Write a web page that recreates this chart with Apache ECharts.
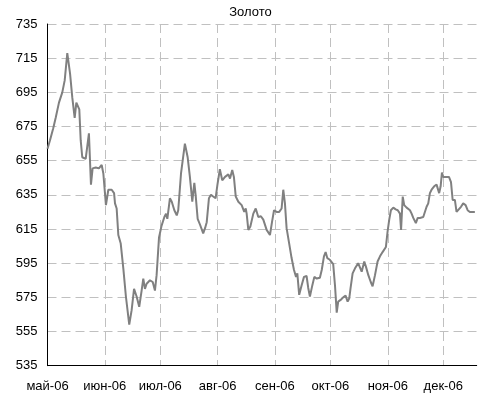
<!DOCTYPE html>
<html>
<head>
<meta charset="utf-8">
<script src="https://cdn.jsdelivr.net/npm/echarts@6/dist/echarts.min.js"></script>
<style>html,body{margin:0;padding:0;background:#fff}#c{width:501px;height:417px}</style>
</head>
<body>
<div id="c"></div>
<script>
// Days since 1 May 2006
const days = [
  0,1.35,2.4,3.1,4.4,6.2,8.0,9.3,10.7,12.2,
  13.4,14.7,15.6,16.5,17.2,17.95,18.8,20.65,21.5,22.4,
  23.5,24.4,26.1,27.8,29.3,30.2,31.6,32.9,34.7,36.0,
  36.5,37.4,38.3,39.6,41.0,42.4,44.2,45.5,46.8,48.2,
  49.6,50.9,51.8,52.7,53.6,55.4,56.9,58.1,59.0,60.3,
  61.7,63.2,64.1,64.8,66.2,67.2,68.6,69.9,70.7,72.2,
  74.3,75.8,77.0,78.3,79.4,80.1,81.2,82.5,84.2,85.2,
  86.1,87.3,88.4,89.6,90.9,91.9,93.2,94.5,96.0,97.8,
  98.7,99.9,100.8,101.8,103.2,105.0,106.4,107.2,107.7,108.6,
  109.7,111.3,112.6,114.0,115.4,116.7,118.5,120.3,121.4,122.5,
  123.9,125.3,126.6,127.5,128.4,129.3,130.7,132.0,133.3,134.4,
  135.1,136.1,137.4,138.7,140.1,141.0,141.9,143.2,144.3,145.6,
  147.3,148.3,149.5,150.4,151.3,152.7,154.5,155.5,156.4,157.2,
  158.5,159.9,161.2,162.3,163.2,163.9,165.0,166.3,168.0,169.0,
  169.9,170.7,171.3,172.2,173.5,174.8,175.8,177.1,178.5,179.8,
  181.2,183.0,183.9,184.8,185.7,187.0,188.3,189.4,190.6,191.2,
  192.1,192.9,194.2,196.0,196.9,197.8,198.3,199.2,200.2,201.4,
  203.2,204.1,205.0,205.9,206.8,207.7,209.1,210.4,211.3,211.8,
  212.6,213.3,214.0,215.3,217.1,218.2,219.1,219.8,220.3,221.2,
  222.1,223.6,224.8,226.1,227.2,228.4,231.1
];
const prices = [
  662,667,668,674,680,689,695,702,718,706,
  692,680,689,690,685,667,657,656,656,671,
  641,650.5,651,650.5,652.5,647.5,629,638,638,636,
  630,627,611.5,606.5,592,575.5,559,567.5,580,575.5,
  569.5,579,586,580,583,585,584,579,588,610,
  617,622,624,621,633,631,626,623,626,647.5,
  665,657,645.5,631,642,635,621,617.5,612.5,615.5,
  619,633,635,634,633,641,650,643.5,645.5,647,
  644.5,649.5,645.5,634,631,629,625,627,624,614.5,
  616.5,624,627,622,622.5,620.5,614.5,611.5,619,626,
  625,625,627,638,630,615.5,606.5,598,591,587,
  589,576.5,582,587,587.5,580.5,575.5,582,587,586,
  586.5,591,599,601.5,598,597,594.5,581.5,566,572.5,
  573.5,575,576,572.5,574.5,580.5,589,592,595,596,
  590,589,596,593,588,584,581.5,588,596,599,
  601.5,604.5,613.5,620.5,626,627.5,626.5,626,624,614.5,
  634,629,627.5,626,624,621.5,622,618.5,621.5,621.5,
  622,623,628,630,636,638,640,641,640,636,
  640,648,645.5,645.5,645.5,642.5,632,631,632,625,
  625,628,630,629,626,625,625
];
const monthDays = [0,31,61,92,123,153,184,214];
const monthLabels = ['май-06','июн-06','июл-06','авг-06','сен-06','окт-06','ноя-06','дек-06'];
const yTicks = [535,555,575,595,615,635,655,675,695,715,735];

const chart = echarts.init(document.getElementById('c'), null, {renderer:'canvas'});
const font = 'Liberation Sans, Arial, sans-serif';
const gridLine = {show:true, lineStyle:{color:'#c0c0c0', type:[9,5], width:1}};
chart.setOption({
  animation:false,
  backgroundColor:'#fff',
  title:{text:'Золото', left:'center', top:1, textStyle:{fontFamily:font, fontSize:13, fontWeight:'normal', color:'#000'}},
  grid:{left:47.5, right:24.3, top:24, bottom:51.3},
  xAxis:{
    type:'value', min:0, max:232.1,
    axisLine:{show:true, lineStyle:{color:'#000', width:1}},
    axisTick:{show:false, customValues:monthDays},
    axisLabel:{customValues:monthDays, margin:14, fontFamily:font, fontSize:13, color:'#000',
      formatter:function(v){const i=monthDays.findIndex(d=>Math.abs(d-v)<0.01);return i>=0?monthLabels[i]:'';}},
    splitLine:gridLine
  },
  yAxis:{
    type:'value', min:535, max:735,
    axisLine:{show:true, lineStyle:{color:'#000', width:1}},
    axisTick:{show:false, customValues:yTicks},
    axisLabel:{customValues:yTicks, margin:10, fontFamily:font, fontSize:13, color:'#000'},
    splitLine:gridLine
  },
  series:[{
    type:'line', showSymbol:false, smooth:false,
    lineStyle:{color:'#808080', width:2},
    data:days.map((d,i)=>[d, prices[i]])
  }]
});
</script>
</body>
</html>
